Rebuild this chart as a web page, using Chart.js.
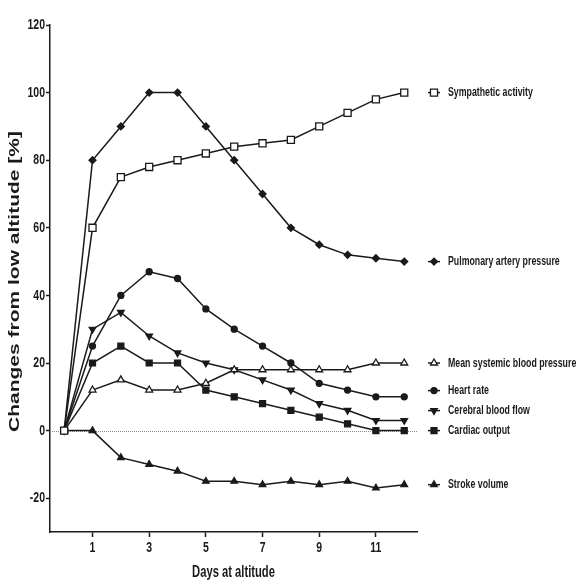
<!DOCTYPE html>
<html>
<head>
<meta charset="utf-8">
<script src="https://cdn.jsdelivr.net/npm/chart.js@4/dist/chart.umd.min.js"></script>
<style>
  html, body { margin: 0; padding: 0; background: #fff; }
  canvas { display: block; }
</style>
</head>
<body>
<canvas id="graph" width="579" height="583"></canvas>
<script>
// days at altitude and % change from low altitude
const days = [0, 1, 2, 3, 4, 5, 6, 7, 8, 9, 10, 11, 12];
const sympatheticActivity = [0, 60, 75, 78, 80, 82, 84, 85, 86, 90, 94, 98, 100];
const pulmonaryArteryPressure = [0, 80, 90, 100, 100, 90, 80, 70, 60, 55, 52, 51, 50];
const meanSystemicBP = [0, 12, 15, 12, 12, 14, 18, 18, 18, 18, 18, 20, 20];
const heartRate = [0, 25, 40, 47, 45, 36, 30, 25, 20, 14, 12, 10, 10];
const cerebralBloodFlow = [0, 30, 35, 28, 23, 20, 18, 15, 12, 8, 6, 3, 3];
const cardiacOutput = [0, 20, 25, 20, 20, 12, 10, 8, 6, 4, 2, 0, 0];
const strokeVolume = [0, 0, -8, -10, -12, -15, -15, -16, -15, -16, -15, -17, -16];

const seriesLabels = ['Sympathetic activity', 'Pulmonary artery pressure', 'Mean systemic blood pressure',
  'Heart rate', 'Cerebral blood flow', 'Cardiac output', 'Stroke volume'];
const xTicks = [1, 3, 5, 7, 9, 11];
const yTicks = [-20, 0, 20, 40, 60, 80, 100, 120];

const sans = '"Liberation Sans", Arial, sans-serif';
const ink = '#1a1a1a';

function series(label, values, style, radius, fill, rotation) {
  return {
    label: label,
    data: days.map((d, i) => ({ x: d, y: values[i] })),
    borderColor: ink,
    borderWidth: 1.5,
    tension: 0,
    pointStyle: style,
    pointRadius: radius,
    pointRotation: rotation || 0,
    pointBackgroundColor: fill ? ink : '#fff',
    pointBorderColor: ink,
    pointBorderWidth: 1.3,
    clip: false
  };
}

const datasets = [
  series(seriesLabels[0], sympatheticActivity, 'rect', 5, false),
  series(seriesLabels[1], pulmonaryArteryPressure, 'rectRot', 3.5, true),
  series(seriesLabels[2], meanSystemicBP, 'triangle', 4, false),
  series(seriesLabels[3], heartRate, 'circle', 3, true),
  series(seriesLabels[4], cerebralBloodFlow, 'triangle', 3.8, true, 180),
  series(seriesLabels[5], cardiacOutput, 'rect', 4.2, true),
  series(seriesLabels[6], strokeVolume, 'triangle', 3.8, true)
];

// the figure's lettering is condensed, so text is drawn squeezed sideways
function squeezedText(ctx, text, x, y, align, font, sx) {
  ctx.save();
  ctx.translate(x, y);
  ctx.scale(sx, 1);
  ctx.font = font;
  ctx.textAlign = align;
  ctx.textBaseline = 'middle';
  ctx.fillStyle = ink;
  ctx.fillText(text, 0, 0);
  ctx.restore();
}

const decor = {
  id: 'decor',
  beforeDatasetsDraw(chart) {
    const ctx = chart.ctx, a = chart.chartArea, y0 = chart.scales.y.getPixelForValue(0);
    ctx.save();
    ctx.strokeStyle = '#888';
    ctx.lineWidth = 1;
    ctx.setLineDash([1, 1]);
    ctx.beginPath();
    ctx.moveTo(a.left, Math.round(y0) + 0.5);
    ctx.lineTo(a.right, Math.round(y0) + 0.5);
    ctx.stroke();
    ctx.restore();
  },
  afterDraw(chart) {
    const ctx = chart.ctx, a = chart.chartArea, xs = chart.scales.x, ys = chart.scales.y;
    // tick labels
    yTicks.forEach(v => squeezedText(ctx, String(v), a.left - 5, ys.getPixelForValue(v), 'right', 'bold 15px ' + sans, 0.7));
    xTicks.forEach(v => squeezedText(ctx, String(v), xs.getPixelForValue(v), 548, 'center', 'bold 15px ' + sans, 0.7));
    // end-of-line labels, pushed up so they do not overlap
    const items = chart.data.datasets.map((ds, i) => ({ i: i, y: ys.getPixelForValue(ds.data[ds.data.length - 1].y) }));
    items.sort((p, q) => q.y - p.y);
    let prev = Infinity;
    items.forEach(it => { it.y = Math.min(it.y, prev - 20); prev = it.y; });
    items.forEach(it => {
      const ds = chart.data.datasets[it.i];
      const mx = a.right + 17;
      ctx.save();
      ctx.strokeStyle = ink;
      ctx.lineWidth = 1.5;
      ctx.beginPath();
      ctx.moveTo(mx - 6, it.y);
      ctx.lineTo(mx + 6, it.y);
      ctx.stroke();
      ctx.fillStyle = ds.pointBackgroundColor;
      ctx.lineWidth = ds.pointBorderWidth;
      Chart.helpers.drawPoint(ctx, {
        pointStyle: ds.pointStyle, radius: ds.pointRadius, rotation: ds.pointRotation, borderWidth: ds.pointBorderWidth
      }, mx, it.y);
      ctx.restore();
      squeezedText(ctx, ds.label, a.right + 31, it.y, 'left', 'bold 13.5px ' + sans, 0.65);
    });
    // axis titles
    squeezedText(ctx, 'Days at altitude', (a.left + a.right) / 2, 573, 'center', 'bold 16px ' + sans, 0.7);
    ctx.save();
    ctx.fillStyle = ink;
    ctx.textAlign = 'center';
    ctx.textBaseline = 'middle';
    ctx.translate(15, (a.top + a.bottom) / 2 + 3);
    ctx.rotate(-Math.PI / 2);
    ctx.scale(1.05, 0.74);
    ctx.font = 'bold 20px ' + sans;
    ctx.fillText('Changes from low altitude [%]', 0, 0);
    ctx.restore();
  }
};

const config = {
  type: 'line',
  data: { datasets: datasets },
  options: {
    responsive: false,
    animation: false,
    devicePixelRatio: 1,
    layout: { padding: { top: 25, right: 162, left: 0, bottom: 0 } },
    plugins: { legend: { display: false }, tooltip: { enabled: false } },
    scales: {
      x: {
        type: 'linear', min: -0.5, max: 12.45,
        afterBuildTicks: s => { s.ticks = xTicks.map(v => ({ value: v })); },
        afterFit: s => { s.height = 51; },
        grid: { drawOnChartArea: false, drawTicks: true, tickLength: 5, tickColor: ink, tickWidth: 1.5 },
        border: { color: ink, width: 1.5 },
        ticks: { display: false }
      },
      y: {
        type: 'linear', min: -30, max: 120,
        afterBuildTicks: s => { s.ticks = yTicks.map(v => ({ value: v })); },
        afterFit: s => { s.width = 50; },
        grid: { drawOnChartArea: false, drawTicks: true, tickLength: 4, tickColor: ink, tickWidth: 1.5 },
        border: { color: ink, width: 1.5 },
        ticks: { display: false }
      }
    }
  },
  plugins: [decor]
};

const graph = document.querySelector('#graph');
new Chart(graph, config);
</script>
</body>
</html>
